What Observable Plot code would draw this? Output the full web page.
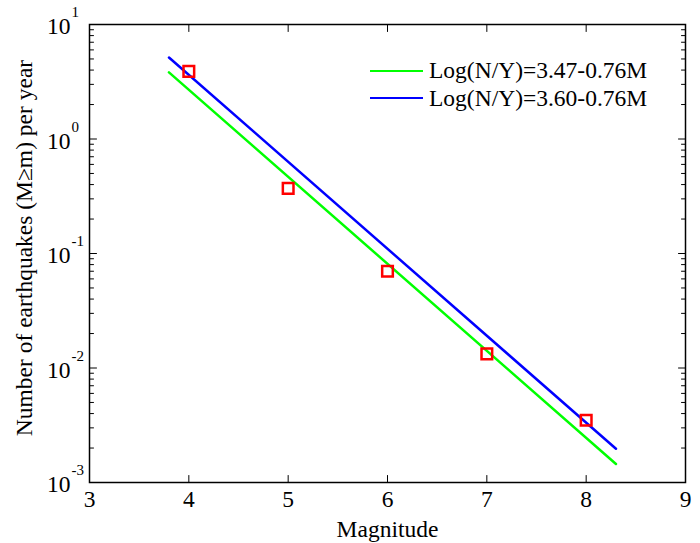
<!DOCTYPE html>
<html><head><meta charset="utf-8">
<script src="https://cdn.jsdelivr.net/npm/d3@7"></script>
<script src="https://cdn.jsdelivr.net/npm/@observablehq/plot@0.6"></script>
<style>
body{margin:0;background:#fff;}
#chart{position:relative;width:700px;height:543px;font-family:"Liberation Serif",serif;}
#chart svg, #chart svg text{font-family:"Liberation Serif",serif !important;}
#legend{position:absolute;left:370px;top:57px;font-size:23.5px;line-height:27.5px;color:#000;font-family:"Liberation Serif",serif;}
.item{display:flex;align-items:center;white-space:nowrap;}
.swatch{width:53px;height:0;border-top:2.5px solid;margin-right:6px;}
</style></head><body><div id="chart"><div id="legend"></div></div>
<script>
// Observed rates
const magnitudes = [4, 5, 6, 7, 8];
const observedRates = [3.9, 0.37, 0.070, 0.0133, 0.0035];
// Fitted lines (end points)
const fitMagnitudes = [3.8, 8.3];
const fitGreen = [3.82, 0.00145];
const fitBlue = [5.15, 0.00197];
const seriesNames = ["Log(N/Y)=3.47-0.76M", "Log(N/Y)=3.60-0.76M"];
const seriesColors = ["#00ff00", "#0000ff"];
// Axes
const xTicks = [3, 4, 5, 6, 7, 8, 9];
const yMajorTicks = [1e-3, 1e-2, 1e-1, 1e0, 1e1];
const yExponents = ["-3", "-2", "-1", "0", "1"];
const xLabel = "Magnitude";
const yLabel = "Number of earthquakes (M\u2265m) per year";

const yMinorTicks = [];
for (const p of [-3, -2, -1, 0]) for (let k = 2; k <= 9; k++) yMinorTicks.push(+(k * Math.pow(10, p)).toPrecision(3));

const lineRows = [
  ...fitMagnitudes.map((m, i) => ({m, n: fitGreen[i], s: seriesNames[0]})),
  ...fitMagnitudes.map((m, i) => ({m, n: fitBlue[i], s: seriesNames[1]}))
];
const points = magnitudes.map((m, i) => ({m, n: observedRates[i]}));
const expRows = yMajorTicks.map((v, i) => ({v, e: yExponents[i]}));

const tickShape = {draw(ctx, l) { ctx.moveTo(0, 0); ctx.lineTo(0, -l); }};
const tk = {shape: tickShape, anchor: "start", stroke: "black", strokeWidth: 1};
const FS = 23.5;

const plot = Plot.plot({
  width: 700, height: 543,
  marginLeft: 89, marginRight: 15, marginTop: 24, marginBottom: 61,
  style: {fontSize: FS + "px", background: "white", color: "black", overflow: "visible"},
  x: {domain: [3, 9], axis: null},
  y: {type: "log", domain: [1e-3, 1e1], axis: null},
  color: {domain: seriesNames, range: seriesColors},
  marks: [
    // ticks (inward, MATLAB style)
    Plot.vector(xTicks, {...tk, x: d => d, frameAnchor: "bottom", rotate: 0, length: 7}),
    Plot.vector(xTicks, {...tk, x: d => d, frameAnchor: "top", rotate: 180, length: 7}),
    Plot.vector(yMajorTicks, {...tk, y: d => d, frameAnchor: "left", rotate: 90, length: 7}),
    Plot.vector(yMajorTicks, {...tk, y: d => d, frameAnchor: "right", rotate: -90, length: 7}),
    Plot.vector(yMinorTicks, {...tk, y: d => d, frameAnchor: "left", rotate: 90, length: 4}),
    Plot.vector(yMinorTicks, {...tk, y: d => d, frameAnchor: "right", rotate: -90, length: 4}),
    Plot.line(lineRows, {x: "m", y: "n", z: "s", stroke: "s", strokeWidth: 2.5}),
    Plot.dot(points, {x: "m", y: "n", symbol: "square", r: 6, stroke: "#ff0000", strokeWidth: 2.5, fill: "none"}),
    Plot.frame({stroke: "black", strokeWidth: 1.5}),
    // tick labels
    Plot.text(xTicks, {x: d => d, frameAnchor: "bottom", dy: 17, text: d => String(d), textAnchor: "middle", lineAnchor: "middle", fontSize: FS}),
    Plot.text(yMajorTicks, {y: d => d, frameAnchor: "left", dx: -19, dy: 2, textAnchor: "end", lineAnchor: "middle", text: () => "10", fontSize: FS}),
    Plot.text(expRows, {y: "v", frameAnchor: "left", dx: -18, dy: -12, textAnchor: "start", lineAnchor: "middle", text: "e", fontSize: 15}),
    // axis titles
    Plot.text([xLabel], {frameAnchor: "bottom", dy: 47, text: d => d, textAnchor: "middle", lineAnchor: "middle", fontSize: FS}),
    Plot.text([yLabel], {frameAnchor: "left", dx: -65.5, dy: -5.5, rotate: -90, text: d => d, textAnchor: "middle", lineAnchor: "middle", fontSize: FS})
  ]
});
document.getElementById("chart").prepend(plot);

const legend = document.getElementById("legend");
seriesNames.forEach((name, i) => {
  const item = document.createElement("div");
  item.className = "item";
  const sw = document.createElement("span");
  sw.className = "swatch";
  sw.style.borderTopColor = seriesColors[i];
  const tx = document.createElement("span");
  tx.textContent = name;
  item.append(sw, tx);
  legend.append(item);
});
</script>
</body></html>
